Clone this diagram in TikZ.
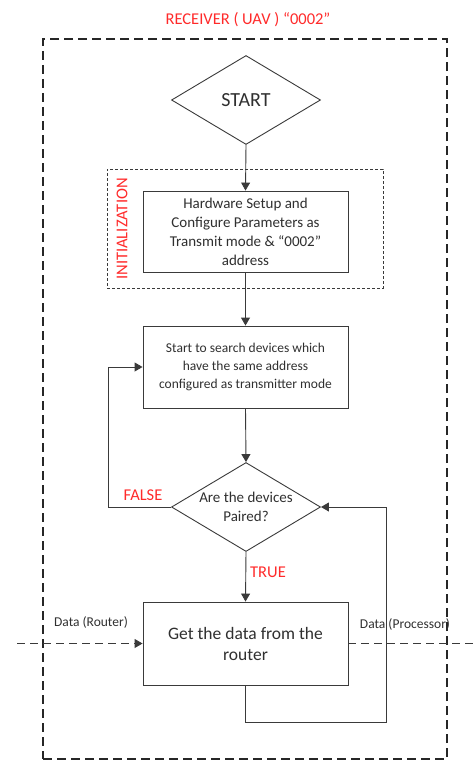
\documentclass[tikz,border=0pt]{standalone}
\usepackage{fontspec}
\setmainfont{Carlito}
\usetikzlibrary{arrows.meta,shapes.geometric}
\definecolor{ink}{HTML}{3A3A3A}
\definecolor{txt}{HTML}{303030}
\definecolor{lab}{HTML}{FF2A2A}
\tikzset{
  stepbox/.style={draw=ink, line width=0.9pt, rectangle, minimum width=205pt, inner sep=2pt, align=center, text=txt, fill=white},
  decision/.style={draw=ink, line width=0.9pt, diamond, minimum width=149pt, minimum height=89pt, inner sep=0pt, fill=white},
  flow/.style={draw=ink, line width=0.9pt, -{Triangle[length=8pt,width=9pt]}},
  plain/.style={draw=ink, line width=0.9pt},
  datalink/.style={draw=ink, line width=0.9pt, dash pattern=on 8pt off 5pt},
  redlabel/.style={text=lab, font=\fontsize{16.5}{19}\selectfont, inner sep=0pt},
  datalabel/.style={text=txt, font=\fontsize{13.5}{16}\selectfont, inner sep=0pt},
}
\begin{document}
\begin{tikzpicture}[x=1pt,y=-1pt]
\useasboundingbox (0,0) rectangle (475,760);

% outer receiver frame and its title
\node[draw=black!85, line width=1.8pt, dash pattern=on 9pt off 5pt, minimum width=404pt, minimum height=720pt, inner sep=0pt] (outer) at (245,399) {};
\node[redlabel] (title) at (248,20) {RECEIVER ( UAV ) “0002”};

% initialization group
\node[draw=ink, line width=0.7pt, dash pattern=on 3pt off 2pt, minimum width=276pt, minimum height=119pt, inner sep=0pt] (init) at (245,228.5) {};
\node[redlabel, rotate=90] (initlab) at (122,229) {INITIALIZATION};

% flow steps
\node[decision, label={[text=txt, font=\fontsize{20}{24}\selectfont]center:START}] (start) at (246,100) {};
\node[stepbox, minimum height=81pt, font=\fontsize{15}{19}\selectfont] (hw) at (245.5,231.5)
  {Hardware Setup and\\Configure Parameters as\\Transmit mode \& “0002”\\address};
\node[stepbox, minimum height=82pt, font=\fontsize{13.5}{18}\selectfont] (search) at (245.5,367)
  {Start to search devices which\\have the same address\\configured as transmitter mode};
\node[decision, label={[text=txt, align=center, font=\fontsize{15}{19}\selectfont]center:Are the devices\\Paired?}] (dec) at (246,507) {};
\node[stepbox, minimum height=83pt, font=\fontsize{17.5}{21}\selectfont] (get) at (245.5,643.5)
  {Get the data from the\\router};

% connectors
\draw[flow] (start.south) -- (hw.north);
\draw[flow] (hw.south) -- (search.north);
\draw[flow] (search.south) -- (dec.north);
\coordinate (falsec) at (108,507);
\draw[flow] (dec.west) -- (falsec) |- (search.west);
\draw[flow] (dec.south) -- (get.north);
\coordinate (loopc) at (386,722);
\draw[flow] (get.south) |- (loopc) |- (dec.east);

% data in / out
\coordinate (din) at (17,643.5);
\coordinate (dout) at (475,643.5);
\draw[datalink, -{Triangle[length=8pt,width=9pt]}] (din) -- (get.west);
\draw[datalink] (get.east) -- (dout);

% labels
\node[redlabel] (falselab) at (143,495) {FALSE};
\node[redlabel] (truelab) at (268,572) {TRUE};
\node[datalabel] (routerlab) at (91,622) {Data (Router)};
\node[datalabel] (proclab) at (405,624) {Data (Processor)};
\end{tikzpicture}
\end{document}
